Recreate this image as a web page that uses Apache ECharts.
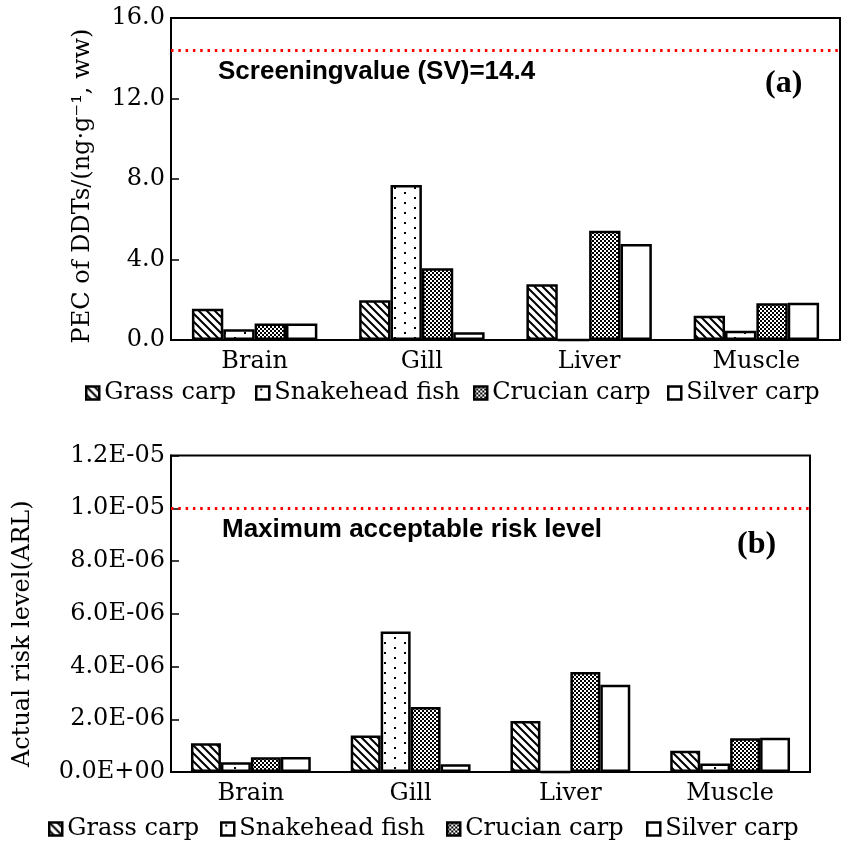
<!DOCTYPE html>
<html>
<head>
<meta charset="utf-8">
<script src="https://cdn.jsdelivr.net/npm/echarts@6/dist/echarts.min.js"></script>
<style>html,body{margin:0;padding:0;background:#fff;}#c{width:857px;height:845px;}</style>
</head>
<body>
<div id="c"></div>
<script>
// ---- data ----
const categories = ['Brain', 'Gill', 'Liver', 'Muscle'];
const speciesNames = ['Grass carp', 'Snakehead fish', 'Crucian carp', 'Silver carp'];

// (a) PEC of DDTs (ng/g ww)
const pecGrass   = [1.55, 1.98, 2.77, 1.21];
const pecSnake   = [0.53, 7.70, 0, 0.46];
const pecCrucian = [0.82, 3.56, 5.43, 1.82];
const pecSilver  = [0.82, 0.38, 4.77, 1.85];
const screeningValue = 14.4;

// (b) Actual risk level
const arlGrass   = [1.09e-6, 1.38e-6, 1.93e-6, 0.81e-6];
const arlSnake   = [0.37e-6, 5.33e-6, 0, 0.32e-6];
const arlCrucian = [0.56e-6, 2.46e-6, 3.79e-6, 1.28e-6];
const arlSilver  = [0.57e-6, 0.29e-6, 3.31e-6, 1.30e-6];
const maxAcceptableRisk = 1.0e-5;

const yTickLabelsA = ['0.0', '4.0', '8.0', '12.0', '16.0'];
const yTickLabelsB = ['0.0E+00', '2.0E-06', '4.0E-06', '6.0E-06', '8.0E-06', '1.0E-05', '1.2E-05'];

// ---- patterns ----
function mk(w, h, draw) {
  const c = document.createElement('canvas');
  c.width = w; c.height = h;
  const g = c.getContext('2d');
  g.fillStyle = '#fff'; g.fillRect(0, 0, w, h);
  draw(g);
  return { image: c, repeat: 'repeat' };
}
const patStripe = mk(8, 8, g => {
  g.strokeStyle = '#000'; g.lineWidth = 2;
  g.beginPath();
  g.moveTo(-2, -2); g.lineTo(10, 10);
  g.moveTo(-2, 6); g.lineTo(2, 10);
  g.moveTo(6, -2); g.lineTo(10, 2);
  g.stroke();
});
const patDots = mk(20, 10, g => {
  g.fillStyle = '#000';
  g.fillRect(4, 2, 2, 2);
  g.fillRect(14, 7, 2, 2);
});
const patChecker = mk(4, 4, g => {
  g.fillStyle = '#000';
  g.fillRect(0, 0, 2, 2);
  g.fillRect(2, 2, 2, 2);
});
const fills = [patStripe, patDots, patChecker, '#ffffff'];

const SERIF = "'DejaVu Serif', 'Liberation Serif', serif";
const FS = 24;

const chart = echarts.init(document.getElementById('c'), null, { renderer: 'canvas' });

function barSeries(name, idx, data, gridIdx, markVal) {
  const s = {
    type: 'bar', name: name, data: data,
    xAxisIndex: gridIdx, yAxisIndex: gridIdx,
    barGap: '0%', barCategoryGap: '25%',
    itemStyle: { color: fills[idx], borderColor: '#000', borderWidth: 2.5 },
    emphasis: { disabled: true },
    animation: false
  };
  if (markVal !== undefined) {
    s.markLine = {
      silent: true, symbol: ['none', 'none'], label: { show: false },
      precision: 12,
      lineStyle: { color: '#ff0000', type: [2.5, 4.8], width: 3 },
      data: [{ yAxis: markVal }], animation: false
    };
  }
  return s;
}

const axisLineStyle = { color: '#000', width: 2 };

const legendLeftsA = [85, 255, 473, 667];
const legendLeftsB = [48, 220, 446, 646];
function legends(lefts, top) {
  return speciesNames.map((n, i) => ({
    data: [n], left: lefts[i], top: top, padding: 0,
    icon: 'rect',
    itemWidth: 13, itemHeight: 13, itemGap: 0,
    selectedMode: false,
    itemStyle: { borderColor: '#000', borderWidth: 2.5 },
    textStyle: { fontFamily: SERIF, fontSize: FS, color: '#000' }
  }));
}

const option = {
  backgroundColor: '#fff',
  animation: false,
  grid: [
    { left: 171, width: 669, top: 18, height: 322, show: true, borderColor: '#000', borderWidth: 2, backgroundColor: 'transparent' },
    { left: 171, width: 639, top: 455.5, height: 316.5, show: true, borderColor: '#000', borderWidth: 2, backgroundColor: 'transparent' }
  ],
  xAxis: [0, 1].map(i => ({
    type: 'category', gridIndex: i, data: categories,
    axisLine: { lineStyle: axisLineStyle },
    axisTick: { inside: true, length: 8, lineStyle: { color: '#000', width: 1 } },
    axisLabel: { fontFamily: SERIF, fontSize: FS, color: '#000', margin: 10 }
  })),
  yAxis: [
    {
      type: 'value', gridIndex: 0, min: 0, max: 16, interval: 4,
      name: 'PEC of DDTs/(ng·g⁻¹, ww)', nameLocation: 'middle', nameGap: 76, nameRotate: 90,
      nameTextStyle: { fontFamily: SERIF, fontSize: FS, color: '#000', padding: [0, 14, 0, 0] },
      axisLine: { show: true, lineStyle: axisLineStyle },
      axisTick: { show: true, inside: true, length: 8, lineStyle: { color: '#000', width: 1.5 } },
      splitLine: { show: false },
      axisLabel: { fontFamily: SERIF, fontSize: FS, color: '#000', margin: 6, padding: [4, 0, 0, 0],
        formatter: v => yTickLabelsA[Math.round(v / 4)] }
    },
    {
      type: 'value', gridIndex: 1, min: 0, max: 1.2e-5, interval: 2e-6,
      name: 'Actual risk level(ARL)', nameLocation: 'middle', nameGap: 136, nameRotate: 90,
      nameTextStyle: { fontFamily: SERIF, fontSize: FS, color: '#000', padding: [0, 40, 0, 0] },
      axisLine: { show: true, lineStyle: axisLineStyle },
      axisTick: { show: true, inside: true, length: 8, lineStyle: { color: '#000', width: 1.5 } },
      splitLine: { show: false },
      axisLabel: { fontFamily: SERIF, fontSize: FS, color: '#000', margin: 6, padding: [4, 0, 0, 0],
        formatter: v => yTickLabelsB[Math.round(v / 2e-6)] }
    }
  ],
  legend: legends(legendLeftsA, 381).concat(legends(legendLeftsB, 817)),
  series: [
    barSeries(speciesNames[0], 0, pecGrass, 0, screeningValue),
    barSeries(speciesNames[1], 1, pecSnake, 0),
    barSeries(speciesNames[2], 2, pecCrucian, 0),
    barSeries(speciesNames[3], 3, pecSilver, 0),
    barSeries(speciesNames[0], 0, arlGrass, 1, maxAcceptableRisk),
    barSeries(speciesNames[1], 1, arlSnake, 1),
    barSeries(speciesNames[2], 2, arlCrucian, 1),
    barSeries(speciesNames[3], 3, arlSilver, 1)
  ],
  graphic: [
    { type: 'text', x: 218, y: 72, silent: true,
      style: { text: 'Screeningvalue (SV)=14.4', font: "bold 26px 'Liberation Sans', Arial, sans-serif", fill: '#000', verticalAlign: 'middle' } },
    { type: 'text', x: 765, y: 84, silent: true,
      style: { text: '(a)', font: "bold 32px 'Liberation Serif', 'Times New Roman', serif", fill: '#000', verticalAlign: 'middle' } },
    { type: 'text', x: 222, y: 530, silent: true,
      style: { text: 'Maximum acceptable risk level', font: "bold 26px 'Liberation Sans', Arial, sans-serif", fill: '#000', verticalAlign: 'middle' } },
    { type: 'text', x: 737, y: 545, silent: true,
      style: { text: '(b)', font: "bold 32px 'Liberation Serif', 'Times New Roman', serif", fill: '#000', verticalAlign: 'middle' } }
  ]
};
chart.setOption(option);
</script>
</body>
</html>
